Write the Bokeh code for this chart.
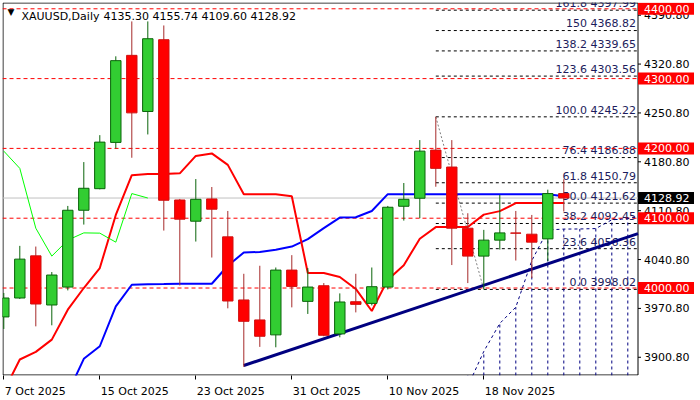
import math
import numpy as np
from bokeh.plotting import figure
from bokeh.models import (ColumnDataSource, FixedTicker, Range1d, Label,
                          CustomJSTickFormatter)
from bokeh.embed import file_html
from bokeh.resources import INLINE
from bokeh.core.properties import value

# ---------------- data ----------------
symbol = "XAUUSD,Daily"
dates = ["7 Oct 2025", "8 Oct 2025", "9 Oct 2025", "10 Oct 2025", "13 Oct 2025", "14 Oct 2025",
         "15 Oct 2025", "16 Oct 2025", "17 Oct 2025", "20 Oct 2025", "21 Oct 2025", "22 Oct 2025",
         "23 Oct 2025", "24 Oct 2025", "27 Oct 2025", "28 Oct 2025", "29 Oct 2025", "30 Oct 2025",
         "31 Oct 2025", "3 Nov 2025", "4 Nov 2025", "5 Nov 2025", "6 Nov 2025", "7 Nov 2025",
         "10 Nov 2025", "11 Nov 2025", "12 Nov 2025", "13 Nov 2025", "14 Nov 2025", "17 Nov 2025",
         "18 Nov 2025", "19 Nov 2025", "20 Nov 2025", "21 Nov 2025", "24 Nov 2025", "25 Nov 2025"]
opens = [3958.6, 3985.7, 4046.1, 3975.7, 4001.4, 4111.4, 4142.3, 4208.6, 4333.3, 4252.9,
         4355.7, 4126.1, 4095.7, 4127.6, 4073.3, 3982.9, 3954.3, 3932.9, 4025.7, 3980.9,
         4003.3, 3934.3, 3980.4, 3978.0, 4001.4, 4117.1, 4128.6, 4197.6, 4173.3, 4085.7,
         4045.7, 4068.6, 4078.8, 4077.1, 4070.4, 4135.30]
highs = [3992.9, 4060.4, 4059.4, 4022.9, 4117.6, 4180.4, 4219.0, 4331.9, 4381.9, 4381.9,
         4376.1, 4127.6, 4156.1, 4144.7, 4110.4, 4020.4, 4031.9, 4029.4, 4047.1, 4028.6,
         4007.1, 3992.3, 4020.4, 4029.4, 4117.6, 4150.4, 4211.9, 4245.22, 4211.9, 4107.1,
         4083.3, 4133.3, 4110.4, 4104.7, 4140.9, 4155.74]
lows = [3941.4, 3984.3, 3945.1, 3946.6, 3996.6, 4090.9, 4141.4, 4200.0, 4186.6, 4220.0,
        4082.3, 4003.7, 4066.6, 4043.7, 3970.9, 3887.0, 3915.7, 3915.1, 3972.3, 3962.9,
        3930.9, 3929.4, 3965.1, 3975.1, 3998.0, 4096.6, 4100.0, 4145.1, 4032.9, 4007.1,
        3998.02, 4055.1, 4039.4, 4014.3, 4038.6, 4109.60]
closes = [3985.7, 4041.4, 3977.1, 4018.6, 4111.4, 4142.9, 4209.0, 4325.7, 4250.9, 4357.1,
          4125.7, 4098.6, 4127.1, 4112.9, 3981.4, 3952.3, 3930.9, 4025.7, 4002.3, 4001.4,
          3932.3, 3980.0, 3976.6, 4001.9, 4115.7, 4127.1, 4196.1, 4171.4, 4085.7, 4045.7,
          4068.6, 4079.0, 4078.6, 4065.7, 4135.30, 4128.92]

# Ichimoku lines (Tenkan from bar 0, Kijun from bar 3)
tenkan = [3852.0, 3897.6, 3908.6, 3926.1, 3969.0, 4000.0, 4028.6, 4104.7, 4161.65, 4163.5,
          4163.5, 4164.25, 4189.25, 4192.8, 4176.4, 4134.45, 4134.45, 4134.45, 4131.55, 4021.55,
          4021.55, 4015.85, 3998.7, 3967.05, 4012.0, 4032.75, 4070.65, 4087.3, 4087.3, 4087.3,
          4105.16, 4110.16, 4121.62, 4121.62, 4121.62, 4121.62]
kijun_first = 3
kijun = [3792.0, 3849.4, 3898.6, 3916.6, 3973.7, 4004.7, 4005.4, 4005.7, 4006.1, 4006.1, 4006.1,
         4031.9, 4050.9, 4051.6, 4054.7, 4059.4, 4070.0, 4085.7, 4100.9, 4101.4, 4110.4,
         4134.45, 4134.45, 4134.45, 4134.45, 4134.45, 4134.45, 4134.45, 4134.45, 4134.45, 4134.45,
         4134.45, 4131.55]
ichimoku_shift = 26

# horizontal levels, price-scale ticks
round_levels = [4000.0, 4100.0, 4200.0, 4300.0, 4400.0]
axis_ticks = [3900.8, 3970.8, 4040.8, 4110.8, 4180.8, 4250.8, 4320.8, 4390.8]

# Fibonacci retracement (13 Nov high -> 18 Nov low)
fib_high_bar, fib_high = 27, 4245.22
fib_low_bar, fib_low = 30, 3998.02
fib_levels = [0.0, 23.6, 38.2, 50.0, 61.8, 76.4, 100.0, 123.6, 138.2, 150.0, 161.8]
fib_names = ["0.0", "23.6", "38.2", "50.0", "61.8", "76.4", "100.0", "123.6", "138.2", "150", "161.8"]

# rising support trend line (two anchors)
trend_bars = [15, 30]
trend_prices = [3889.0, 4004.0]

# ---------------- geometry of the page ----------------
FRAME_L, FRAME_R, FRAME_T, FRAME_B = 2, 700, 2, 376     # page pixels of the plotting frame
BAR0_PX, PX_PER_BAR = 3.3, 16.0                       # centre of first bar, bar spacing
SCALE_PX = 637.5                                       # x of the price-scale line
Y_LO, Y_HI = 3874.7, 4409.0
PX_PER_PT = (FRAME_B - FRAME_T) / (Y_HI - Y_LO)

def bx(px):            # page x -> bar coordinate
    return (px - BAR0_PX) / PX_PER_BAR

def py(px):            # page y -> price coordinate
    return Y_HI - (px - FRAME_T) / PX_PER_PT

n = len(opens)
x = np.arange(n)
FONT = "DejaVu Sans"
XL, XS = bx(FRAME_L), bx(SCALE_PX)

p = figure(width=700, height=400,
           x_range=Range1d(XL, bx(FRAME_R)), y_range=Range1d(Y_LO, Y_HI),
           y_axis_location=None, output_backend="svg", toolbar_location=None,
           min_border_left=FRAME_L, min_border_top=FRAME_T, min_border_right=0,
           min_border_bottom=400 - FRAME_B)
p.grid.visible = False
p.outline_line_color = None
p.background_fill_color = "white"
p.border_fill_color = "white"

# chart frame (ends at the price scale)
p.quad(left=[bx(FRAME_L + 0.5)], right=[XS], top=[py(FRAME_T + 0.5)], bottom=[py(FRAME_B - 0.5)],
       fill_color=None, line_color="black", line_width=1)

# current-price (bid) line
p.segment(x0=[XL], y0=[closes[-1]], x1=[XS], y1=[closes[-1]], line_color="#C0C0C0", line_width=1)

# fibonacci levels
fib_prices = [fib_low + (fib_high - fib_low) * lv / 100.0 for lv in fib_levels]
k = len(fib_prices)
fib_src = ColumnDataSource(dict(
    x0=[fib_high_bar] * k, x1=[XS] * k, y=fib_prices,
    ty=[pr + 6.6 / PX_PER_PT for pr in fib_prices], tx=[bx(635.5)] * k,
    label=[f"{nm} {pr:.2f}" for nm, pr in zip(fib_names, fib_prices)]))
p.segment(x0="x0", y0="y", x1="x1", y1="y", source=fib_src, line_color="black",
          line_dash="3 3", line_width=1)
p.line([fib_high_bar, fib_low_bar], [fib_high, fib_low], line_color="#808080",
       line_dash="2 2", line_width=1)
p.text(x="tx", y="ty", text="label", source=fib_src, text_align="right",
       text_baseline="middle", text_color="#1C1C5C",
       text_font=value(FONT), text_font_size="11px")

# round-number red dashed lines
m = len(round_levels)
p.segment(x0=[XL] * m, y0=round_levels, x1=[XS] * m, y1=round_levels,
          line_color="red", line_dash="4 3", line_width=1)

# Ichimoku cloud: Senkou span A (shifted forward), hatched down to span B (below view)
last_bar = math.ceil(XS)
sa_bars, sa_vals = [], []
for s in range(kijun_first, n):
    b = s + ichimoku_shift
    if b > last_bar:
        break
    sa_bars.append(float(b))
    sa_vals.append((tenkan[s] + kijun[s - kijun_first]) / 2.0)
if sa_bars[-1] > XS:   # clip the span at the price scale
    fr = (XS - sa_bars[-2]) / (sa_bars[-1] - sa_bars[-2])
    sa_vals[-1] = sa_vals[-2] + fr * (sa_vals[-1] - sa_vals[-2])
    sa_bars[-1] = XS
p.line(sa_bars, sa_vals, line_color="#000080", line_dash="3 3", line_width=1)
hb = [b for b in sa_bars if float(b).is_integer()]
hv = [v for b, v in zip(sa_bars, sa_vals) if float(b).is_integer()]
p.segment(x0=hb, y0=[Y_LO] * len(hb), x1=hb, y1=hv, line_color="#000080",
          line_dash="3 3", line_width=1)

# Kijun, Tenkan, Chikou
p.line(x[kijun_first:], kijun, line_color="#0000FF", line_width=2)
p.line(x, tenkan, line_color="#FF0000", line_width=2)
p.line(x[ichimoku_shift:] - ichimoku_shift, closes[ichimoku_shift:], line_color="#00FF00", line_width=1)

# trend line (extended to the price scale)
slope = (trend_prices[1] - trend_prices[0]) / (trend_bars[1] - trend_bars[0])
p.line([trend_bars[0], XS], [trend_prices[0], trend_prices[0] + slope * (XS - trend_bars[0])],
       line_color="#000080", line_width=3)

# candles
o = np.array(opens); c = np.array(closes)
bull = c >= o
cs = ColumnDataSource(dict(
    x=x, top=np.maximum(o, c), bottom=np.minimum(o, c), high=highs, low=lows,
    fill=["#32CD32" if b else "#FF0000" for b in bull],
    edge=["#0A640A" if b else "#D01010" for b in bull],
    wick=["#0A640A" if b else "#A52A2A" for b in bull]))
p.segment(x0="x", y0="low", x1="x", y1="high", source=cs, line_color="wick", line_width=1)
p.vbar(x="x", width=0.65, top="top", bottom="bottom", source=cs,
       fill_color="fill", line_color="edge", line_width=1)

# ---------------- price scale (drawn in the frame, right of the scale line) ----------------
t = len(axis_ticks)
p.segment(x0=[XS] * t, y0=axis_ticks, x1=[XS + 3 / PX_PER_BAR] * t, y1=axis_ticks,
          line_color="black", line_width=1)
p.text(x=[XS + 6 / PX_PER_BAR] * t, y=axis_ticks, text=[f"{v:.2f}" for v in axis_ticks],
       text_align="left", text_baseline="middle", text_color="black",
       text_font=value(FONT), text_font_size="11px")

tag_prices = round_levels + [closes[-1]]
tag_colors = ["#FF0000"] * len(round_levels) + ["#000000"]
p.rect(x=[XS + 28 / PX_PER_BAR] * len(tag_prices), y=tag_prices, width=56, height=12,
       width_units="screen", height_units="screen", fill_color=tag_colors, line_color=None)
p.text(x=[XS + 6 / PX_PER_BAR] * len(tag_prices), y=tag_prices,
       text=[f"{v:.2f}" for v in tag_prices], text_align="left", text_baseline="middle",
       text_color="white", text_font=value(FONT), text_font_size="11px")

# ---------------- time axis ----------------
CW = {"0": .636, "1": .636, "2": .636, "3": .636, "4": .636, "5": .636, "6": .636,
      "7": .636, "8": .636, "9": .636, " ": .318, "O": .787, "c": .55, "t": .392,
      "N": .748, "o": .612, "v": .592}
label_idx = list(range(0, n, 6))
label_txt = [dates[i] for i in label_idx]
centers = [i + (sum(CW.get(ch, .6) for ch in s) * 11 / 2 + 1) / PX_PER_BAR
           for i, s in zip(label_idx, label_txt)]
xa = p.xaxis[0]
xa.ticker = FixedTicker(ticks=centers, minor_ticks=label_idx)
xa.formatter = CustomJSTickFormatter(args=dict(centers=centers, texts=label_txt), code="""
    let best = 0;
    for (let k = 0; k < centers.length; k++) {
        if (Math.abs(centers[k] - tick) < Math.abs(centers[best] - tick)) best = k;
    }
    return texts[best];
""")
xa.axis_line_color = None
xa.major_tick_line_color = None
xa.major_tick_out = 0
xa.major_tick_in = 0
xa.minor_tick_line_color = "black"
xa.minor_tick_out = 4
xa.minor_tick_in = 0
xa.major_label_standoff = 5
xa.major_label_text_font = FONT
xa.major_label_text_font_size = "11px"
xa.major_label_text_color = "black"

# ---------------- header ----------------
FH = FRAME_B - FRAME_T
p.add_layout(Label(x=5, y=FH - 10, x_units="screen", y_units="screen", text="\u25BC",
                   text_font=FONT, text_font_size="9px", text_color="black",
                   text_baseline="middle"))
p.add_layout(Label(x=19, y=FH - 14.7, x_units="screen", y_units="screen", text=symbol,
                   text_font=FONT, text_font_size="11px", text_color="black",
                   text_baseline="alphabetic"))
hdr = f"{opens[-1]:.2f} {highs[-1]:.2f} {lows[-1]:.2f} {closes[-1]:.2f}"
p.add_layout(Label(x=101, y=FH - 14.7, x_units="screen", y_units="screen", text=hdr,
                   text_font=FONT, text_font_size="11px", text_color="black",
                   text_baseline="alphabetic"))

open("out.html", "w").write(file_html(p, INLINE))
